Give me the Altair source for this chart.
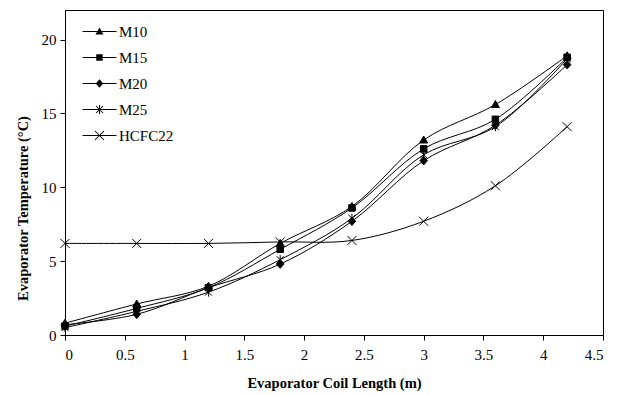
import altair as alt
import pandas as pd

x_vals = [0, 0.6, 1.2, 1.8, 2.4, 3.0, 3.6, 4.2]
series_names = ["M10", "M15", "M20", "M25", "HCFC22"]
m10 = [0.8, 2.1, 3.3, 6.2, 8.7, 13.2, 15.6, 18.9]
m15 = [0.6, 1.8, 3.2, 5.8, 8.6, 12.6, 14.6, 18.8]
m20 = [0.7, 1.4, 3.2, 4.8, 7.7, 11.8, 14.2, 18.3]
m25 = [0.5, 1.6, 2.9, 5.1, 7.9, 12.2, 14.1, 18.7]
hcfc22 = [6.2, 6.2, 6.2, 6.3, 6.4, 7.7, 10.1, 14.1]
x_ticks = [0, 0.5, 1, 1.5, 2, 2.5, 3, 3.5, 4, 4.5]
y_ticks = [0, 5, 10, 15, 20]

rows = []
for name, vals in zip(series_names, [m10, m15, m20, m25, hcfc22]):
    for xv, yv in zip(x_vals, vals):
        rows.append({"x": xv, "y": yv, "series": name, "legend_series": name})
df = pd.DataFrame(rows)

marker_paths = [
    "M0,-0.8L0.8,0.6L-0.8,0.6Z",
    "M-0.65,-0.65H0.65V0.65H-0.65Z",
    "M0,-0.85L0.75,0L0,0.85L-0.75,0Z",
    "M-0.7,-0.7L0.7,0.7M-0.7,0.7L0.7,-0.7M0,-0.9V0.9",
    "M-0.9,-0.9L0.9,0.9M-0.9,0.9L0.9,-0.9",
]

# legend symbols drawn as filled outlines (line + marker)
w = 0.1
legend_line = "M-3.4,-%.2fH3.4V%.2fH-3.4Z" % (w, w)
legend_markers = [
    "M0,-0.8L0.8,0.6L-0.8,0.6Z",
    "M-0.65,-0.65H0.65V0.65H-0.65Z",
    "M0,-0.85L0.75,0L0,0.85L-0.75,0Z",
    "M-0.63,-0.77L0.77,0.63L0.63,0.77L-0.77,-0.63Z"
    "M-0.77,0.63L0.63,-0.77L0.77,-0.63L-0.63,0.77Z"
    "M-0.1,-0.9H0.1V0.9H-0.1Z",
    "M-0.83,-0.97L0.97,0.83L0.83,0.97L-0.97,-0.83Z"
    "M-0.97,0.83L0.83,-0.97L0.97,-0.83L-0.83,0.97Z",
]
legend_paths = [legend_line + p for p in legend_markers]

FONT = "Liberation Serif"

xenc = alt.X("x:Q", scale=alt.Scale(domain=[0, 4.5], nice=False),
             axis=alt.Axis(values=x_ticks, title="Evaporator Coil Length (m)", format="~g"))
yenc = alt.Y("y:Q", scale=alt.Scale(domain=[0, 22], nice=False),
             axis=alt.Axis(values=y_ticks, title="Evaporator Temperature (°C)", titleY=198))

lines = alt.Chart(df).mark_line(interpolate="catmull-rom", color="black", strokeWidth=1).encode(
    x=xenc, y=yenc, detail="series:N"
)

points = alt.Chart(df).mark_point(fill="black", stroke="black", strokeWidth=1, opacity=1, size=100).encode(
    x=xenc, y=yenc,
    shape=alt.Shape("series:N", scale=alt.Scale(domain=series_names, range=marker_paths), legend=None),
)

legend_layer = alt.Chart(df).mark_point(fill="black", stroke="black", strokeWidth=1, opacity=0, size=100).encode(
    x=xenc, y=yenc,
    shape=alt.Shape(
        "legend_series:N",
        scale=alt.Scale(domain=series_names, range=legend_paths),
        legend=alt.Legend(
            title=None, orient="none", legendX=27, legendY=14,
            symbolSize=100, symbolOpacity=1, symbolFillColor="black",
            symbolStrokeColor="black", symbolStrokeWidth=1,
            labelFont=FONT, labelFontSize=15, labelColor="black",
            labelOffset=12, rowPadding=10, padding=0,
        ),
    ),
)

chart = alt.layer(lines, points, legend_layer).resolve_scale(shape="independent").properties(
    width=538, height=325,
    autosize=alt.AutoSizeParams(type="none"),
    padding={"left": 65, "top": 10, "right": 21, "bottom": 60},
    background="white",
).configure_view(stroke="black", strokeWidth=1).configure_axis(
    grid=False, domainColor="black", tickColor="black", tickSize=5,
    labelFont=FONT, labelFontSize=15, labelColor="black",
    titleFont=FONT, titleFontSize=14.5, titleFontWeight="bold", titleColor="black",
).configure_axisX(labelPadding=7, titlePadding=14).configure_axisY(labelPadding=4, titlePadding=11)

chart.save("out.html", embed_options={"renderer": "svg", "actions": False})
